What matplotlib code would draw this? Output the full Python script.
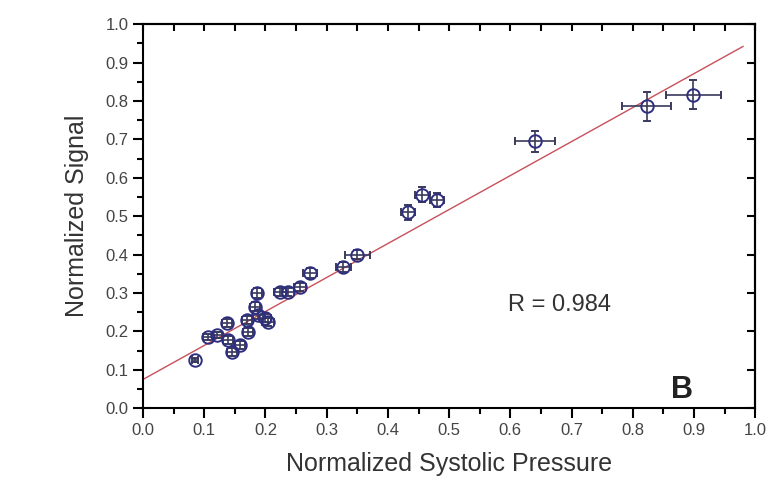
import matplotlib.pyplot as plt
from matplotlib.ticker import MultipleLocator

plt.rcParams["font.family"] = ["Liberation Sans", "DejaVu Sans"]

# 数据点：归一化收缩压 vs 归一化信号
pressure = [0.085, 0.106, 0.121, 0.137, 0.139, 0.145, 0.158, 0.172, 0.170,
            0.186, 0.183, 0.188, 0.199, 0.204, 0.224, 0.237, 0.257, 0.273,
            0.327, 0.350, 0.433, 0.456, 0.480, 0.640, 0.823, 0.899]
signal = [0.125, 0.185, 0.190, 0.222, 0.178, 0.146, 0.164, 0.198, 0.230,
          0.300, 0.264, 0.243, 0.235, 0.225, 0.303, 0.303, 0.316, 0.352,
          0.368, 0.400, 0.510, 0.556, 0.543, 0.695, 0.786, 0.817]
pressure_err = [0.005, 0.008, 0.008, 0.008, 0.008, 0.008, 0.008, 0.008, 0.008,
                0.008, 0.008, 0.008, 0.010, 0.010, 0.010, 0.010, 0.010, 0.012,
                0.012, 0.020, 0.012, 0.012, 0.012, 0.033, 0.040, 0.045]
signal_err = [0.005, 0.008, 0.008, 0.010, 0.010, 0.010, 0.010, 0.010, 0.010,
              0.012, 0.012, 0.010, 0.010, 0.010, 0.010, 0.010, 0.010, 0.012,
              0.012, 0.012, 0.020, 0.020, 0.018, 0.028, 0.037, 0.037]

# 线性拟合
fit_x = [0.0, 0.98]
fit_intercept = 0.075
fit_slope = 0.885
fit_y = [fit_intercept + fit_slope * v for v in fit_x]

fig = plt.figure(figsize=(7.73, 4.86), dpi=100)
ax = fig.add_axes([0.185, 0.16, 0.792, 0.79])

ax.plot(fit_x, fit_y, color="#c8505a", linewidth=1.0, zorder=2)

ax.errorbar(pressure, signal, xerr=pressure_err, yerr=signal_err,
            fmt="o", mfc="none", mec="#2e2e80", mew=1.4, ms=9,
            ecolor="#3a3a5c", elinewidth=1.2, capsize=3, capthick=1.2, zorder=3)

ax.text(0.596, 0.27, "R = 0.984", fontsize=17, color="#333333", va="center", ha="left")
ax.text(0.88, 0.047, "B", fontsize=22, fontweight="bold", color="#222222", va="center", ha="center")

ax.set_xlim(0, 1.0)
ax.set_ylim(0, 1.0)
ax.xaxis.set_major_locator(MultipleLocator(0.1))
ax.xaxis.set_minor_locator(MultipleLocator(0.05))
ax.yaxis.set_major_locator(MultipleLocator(0.1))
ax.yaxis.set_minor_locator(MultipleLocator(0.05))
ax.xaxis.set_major_formatter(plt.FuncFormatter(lambda v, p: f"{v:.1f}"))
ax.yaxis.set_major_formatter(plt.FuncFormatter(lambda v, p: f"{v:.1f}"))

ax.tick_params(which="major", direction="out", length=7, width=1.5, labelsize=12,
               labelcolor="#444444", top=False, right=False)
ax.tick_params(which="minor", direction="out", length=4, width=1.5, top=False, right=False)

# 上、右两边的内向刻度
sec_x = ax.secondary_xaxis("top")
sec_x.xaxis.set_major_locator(MultipleLocator(0.05))
sec_x.tick_params(direction="in", length=5, width=1.5, labeltop=False)
sec_x.spines["top"].set_linewidth(1.5)
sec_y = ax.secondary_yaxis("right")
sec_y.yaxis.set_major_locator(MultipleLocator(0.1))
sec_y.tick_params(direction="in", length=6, width=1.5, labelright=False)
sec_y.spines["right"].set_linewidth(1.5)

for spine in ax.spines.values():
    spine.set_linewidth(1.5)

ax.set_xlabel("Normalized Systolic Pressure", fontsize=18, color="#333333", labelpad=10)
ax.set_ylabel("Normalized Signal", fontsize=18, color="#333333", labelpad=12)

fig.savefig("out.png", dpi=100)
